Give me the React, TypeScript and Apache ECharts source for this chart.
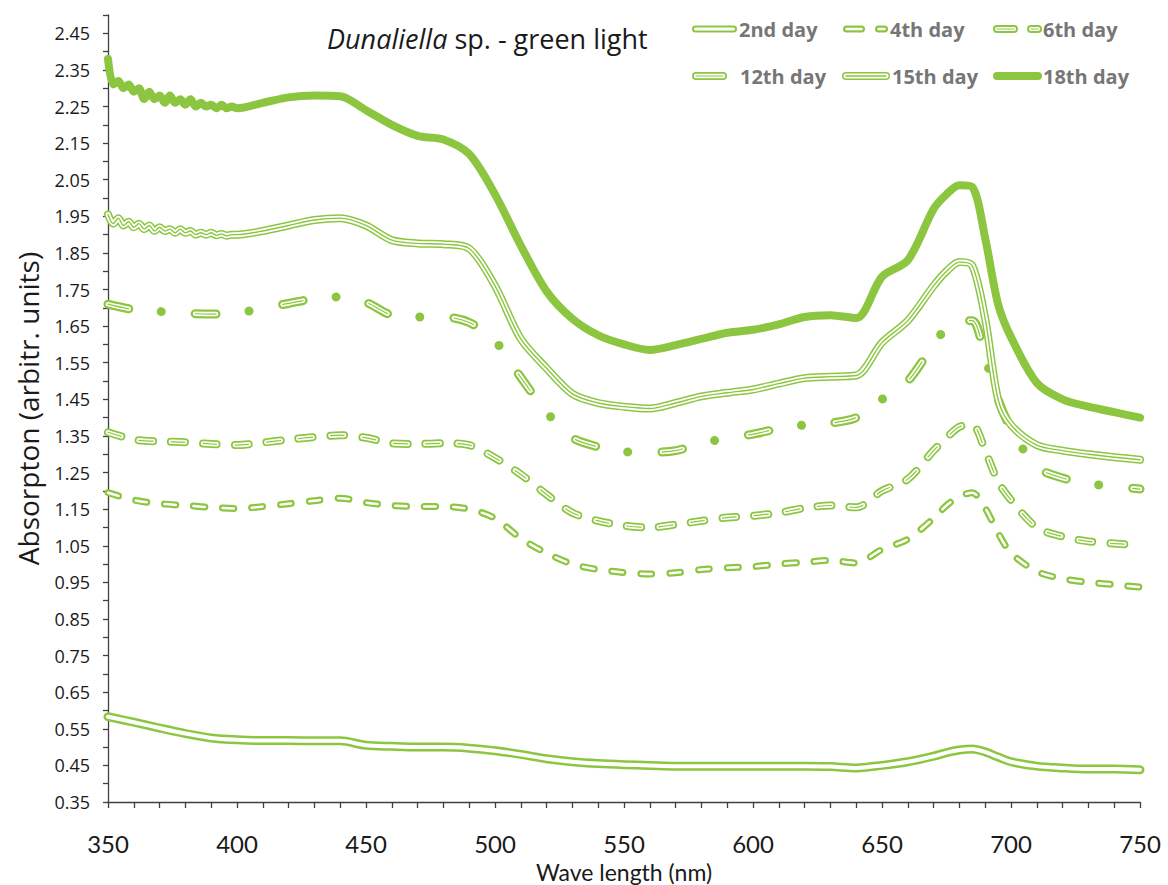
import React, { useEffect, useRef } from 'react';
import * as echarts from 'echarts';

const GREEN = '#8cc640';
const WHITE = '#ffffff';
const FONT = 'Open Sans';
const FONT_X = 'Lato';

// Wavelengths (nm)
const wlFull = [350, 360, 370, 380, 390, 400, 410, 420, 430, 440, 450, 460, 470, 480, 490,
  500, 510, 520, 530, 540, 550, 560, 570, 580, 590, 600, 610, 620, 630, 640, 650, 660, 670,
  675, 680, 685, 690, 695, 700, 710, 720, 730, 740, 750];
const wlNoisy = [350, 352, 354, 356, 358, 360, 362, 364, 366, 368, 370, 372, 374, 376, 378,
  380, 382, 384, 386, 388, 390, 392, 394, 396, 398];
const wlBody = wlFull.filter((w) => w >= 400);

const day2 = [0.583, 0.568, 0.552, 0.537, 0.525, 0.520, 0.518, 0.518, 0.517, 0.517, 0.505, 0.502,
  0.500, 0.500, 0.497, 0.490, 0.480, 0.468, 0.460, 0.455, 0.452, 0.450, 0.448, 0.448, 0.448, 0.448,
  0.448, 0.448, 0.447, 0.443, 0.450, 0.460, 0.475, 0.485, 0.492, 0.495, 0.487, 0.473, 0.460, 0.448,
  0.443, 0.440, 0.440, 0.438];
const day4 = [1.195, 1.175, 1.165, 1.160, 1.155, 1.152, 1.157, 1.165, 1.173, 1.180, 1.168, 1.160,
  1.157, 1.157, 1.150, 1.125, 1.070, 1.030, 1.000, 0.985, 0.977, 0.973, 0.976, 0.985, 0.990, 0.993,
  1.000, 1.005, 1.010, 1.003, 1.040, 1.068, 1.125, 1.160, 1.185, 1.195, 1.153, 1.085, 1.030, 0.980,
  0.960, 0.950, 0.944, 0.937];
const day6 = [1.360, 1.340, 1.335, 1.333, 1.328, 1.325, 1.332, 1.340, 1.347, 1.352, 1.345, 1.330,
  1.328, 1.330, 1.325, 1.290, 1.245, 1.190, 1.140, 1.118, 1.105, 1.100, 1.108, 1.118, 1.127, 1.132,
  1.140, 1.153, 1.160, 1.155, 1.200, 1.232, 1.310, 1.345, 1.375, 1.380, 1.310, 1.225, 1.175, 1.100,
  1.075, 1.062, 1.056, 1.052];
const day12 = [1.710, 1.695, 1.690, 1.685, 1.683, 1.685, 1.700, 1.712, 1.725, 1.730, 1.715, 1.680,
  1.675, 1.675, 1.660, 1.610, 1.510, 1.415, 1.345, 1.320, 1.307, 1.305, 1.310, 1.330, 1.344, 1.355,
  1.370, 1.380, 1.385, 1.400, 1.450, 1.500, 1.600, 1.645, 1.665, 1.665, 1.565, 1.450, 1.370, 1.265,
  1.235, 1.220, 1.212, 1.205];
const day15Noisy = [1.955, 1.930, 1.945, 1.925, 1.935, 1.920, 1.930, 1.915, 1.925, 1.910, 1.920,
  1.910, 1.915, 1.905, 1.915, 1.905, 1.910, 1.900, 1.905, 1.900, 1.905, 1.898, 1.902, 1.897, 1.900];
const day15Body = [1.900, 1.910, 1.925, 1.940, 1.945, 1.925, 1.885, 1.876, 1.874, 1.862, 1.760,
  1.615, 1.535, 1.465, 1.440, 1.430, 1.425, 1.440, 1.458, 1.468, 1.477, 1.493, 1.508, 1.512, 1.515,
  1.605, 1.665, 1.760, 1.800, 1.825, 1.815, 1.670, 1.450, 1.380, 1.325, 1.310, 1.300, 1.292, 1.285];
const day18Noisy = [2.380, 2.310, 2.320, 2.300, 2.310, 2.290, 2.300, 2.270, 2.290, 2.270, 2.280,
  2.260, 2.280, 2.260, 2.270, 2.255, 2.270, 2.250, 2.260, 2.250, 2.255, 2.245, 2.255, 2.245, 2.250];
const day18Body = [2.245, 2.260, 2.275, 2.280, 2.278, 2.240, 2.200, 2.170, 2.160, 2.120, 2.010,
  1.870, 1.745, 1.670, 1.625, 1.600, 1.585, 1.598, 1.615, 1.632, 1.640, 1.655, 1.675, 1.680, 1.672,
  1.785, 1.830, 1.970, 2.010, 2.035, 2.030, 1.890, 1.710, 1.620, 1.495, 1.450, 1.430, 1.415, 1.400];

const legendNames = ['2nd day', '4th day', '6th day', '12th day', '15th day', '18th day'];
const xTickLabels = [350, 400, 450, 500, 550, 600, 650, 700, 750];

type Layer = { color: string; width: number; dash?: number[] };

const pairs = (xs: number[], ys: number[]) => xs.map((x, i) => [x, ys[i]]);

const dash4 = [11, 18];
const dash6 = [14, 18];
const dash12 = [21, 33, 0.01, 34];
const dash12w = [21, 67.01];

const styles: Layer[][] = [
  [{ color: GREEN, width: 9 }, { color: WHITE, width: 4 }],
  [{ color: GREEN, width: 7, dash: dash4 }, { color: WHITE, width: 2.5, dash: dash4 }],
  [{ color: GREEN, width: 8, dash: dash6 }, { color: WHITE, width: 4.5, dash: dash6 }, { color: GREEN, width: 1.2, dash: dash6 }],
  [{ color: GREEN, width: 9, dash: dash12 }, { color: WHITE, width: 4.5, dash: dash12w }, { color: GREEN, width: 1.2, dash: dash12w }],
  [{ color: GREEN, width: 8 }, { color: WHITE, width: 5 }, { color: GREEN, width: 1.4 }],
  [{ color: GREEN, width: 8 }],
];

const datasets = [
  pairs(wlFull, day2),
  pairs(wlFull, day4),
  pairs(wlFull, day6),
  pairs(wlFull, day12),
  pairs(wlNoisy.concat(wlBody), day15Noisy.concat(day15Body)),
  pairs(wlNoisy.concat(wlBody), day18Noisy.concat(day18Body)),
];

const legendIcons: { y: number; segs: number[][]; tx: number; layers: Layer[] }[] = [
  { y: 29, segs: [[692, 737]], tx: 739, layers: [{ color: GREEN, width: 7 }, { color: WHITE, width: 3 }] },
  { y: 29, segs: [[843, 865], [875, 888]], tx: 890, layers: [{ color: GREEN, width: 7 }, { color: WHITE, width: 2.5 }] },
  { y: 29, segs: [[993, 1018], [1027, 1042]], tx: 1043, layers: [{ color: GREEN, width: 8 }, { color: WHITE, width: 4 }, { color: GREEN, width: 1.2 }] },
  { y: 76, segs: [[692, 727]], tx: 740, layers: [{ color: GREEN, width: 8 }, { color: WHITE, width: 4.5 }, { color: GREEN, width: 1.2 }] },
  { y: 76, segs: [[842, 890]], tx: 892, layers: [{ color: GREEN, width: 8 }, { color: WHITE, width: 5 }, { color: GREEN, width: 1.4 }] },
  { y: 76, segs: [[993, 1042]], tx: 1043, layers: [{ color: GREEN, width: 8 }] },
];

function buildOption() {
  const series: any[] = [];
  datasets.forEach((data, i) => {
    styles[i].forEach((layer, j) => {
      series.push({
        type: 'line',
        name: j === 0 ? legendNames[i] : legendNames[i] + ' ' + j,
        data,
        smooth: 0.3,
        symbol: 'none',
        silent: true,
        lineStyle: {
          color: layer.color,
          width: layer.width,
          type: layer.dash ? layer.dash : 'solid',
          cap: 'round',
          join: 'round',
        },
      });
    });
  });

  const graphic: any[] = [];
  legendIcons.forEach((ic, i) => {
    ic.segs.forEach((s) => {
      ic.layers.forEach((l) => {
        const r = ic.layers[0].width / 2;
        graphic.push({
          type: 'line',
          shape: { x1: s[0] + r, y1: ic.y, x2: s[1] - r, y2: ic.y },
          style: { stroke: l.color, lineWidth: l.width, lineCap: 'round' },
        });
      });
    });
    graphic.push({
      type: 'text',
      x: ic.tx,
      y: ic.y,
      style: {
        text: legendNames[i],
        fill: '#767676',
        fontSize: 20,
        fontWeight: 'bold',
        fontFamily: FONT,
        verticalAlign: 'middle',
        align: 'left',
      },
    });
  });

  return {
    animation: false,
    backgroundColor: '#ffffff',
    title: {
      text: '{i|Dunaliella}{n| sp. - green light}',
      left: 322,
      top: 20,
      textStyle: {
        fontWeight: 'normal',
        rich: {
          i: { fontStyle: 'italic', fontWeight: 'normal', fontSize: 27, fontFamily: FONT, color: '#1a1a1a' },
          n: { fontWeight: 'normal', fontSize: 27, fontFamily: FONT, color: '#1a1a1a' },
        },
      },
    },
    grid: { left: 108, right: 28, top: 15, bottom: 83, containLabel: false, outerBoundsMode: 'none' },
    xAxis: {
      type: 'value',
      min: 350,
      max: 750,
      interval: 10,
      name: 'Wave length (nm)',
      nameLocation: 'middle',
      nameGap: 69,
      nameTextStyle: { fontSize: 23, lineHeight: 24, fontFamily: FONT_X, color: '#1a1a1a', verticalAlign: 'middle' },
      axisLine: { show: true, lineStyle: { color: '#404040', width: 1.3 } },
      axisTick: { show: true, inside: false, length: 6, lineStyle: { color: '#404040', width: 1.3 } },
      splitLine: { show: false },
      axisLabel: {
        margin: 41,
        fontSize: 24,
        lineHeight: 24,
        verticalAlign: 'middle',
        fontFamily: FONT_X,
        color: '#1a1a1a',
        formatter: (v: number) => (xTickLabels.indexOf(Math.round(v)) >= 0 ? String(Math.round(v)) : ''),
      },
    },
    yAxis: {
      type: 'value',
      min: 0.35,
      max: 2.5,
      interval: 0.05,
      name: 'Absorpton (arbitr. units)',
      nameLocation: 'middle',
      nameGap: 66,
      nameTextStyle: { fontSize: 28, lineHeight: 28, fontFamily: FONT, color: '#1a1a1a' },
      axisLine: { show: true, lineStyle: { color: '#404040', width: 1.3 } },
      axisTick: { show: true, inside: false, length: 5, lineStyle: { color: '#404040', width: 1.3 } },
      splitLine: { show: false },
      axisLabel: {
        margin: 18,
        fontSize: 18,
        fontFamily: FONT,
        color: '#1a1a1a',
        formatter: (v: number) => {
          const k = Math.round(v / 0.05);
          return k % 2 === 1 ? v.toFixed(2) : '';
        },
      },
    },
    series,
    graphic,
  };
}

export default function App() {
  const ref = useRef<HTMLDivElement>(null);
  useEffect(() => {
    document.body.style.margin = '0';
    const chart = echarts.init(ref.current as HTMLDivElement, null, { renderer: 'svg' });
    chart.setOption(buildOption() as any);
    return () => chart.dispose();
  }, []);
  return <div ref={ref} style={{ width: 1168, height: 885 }} />;
}
